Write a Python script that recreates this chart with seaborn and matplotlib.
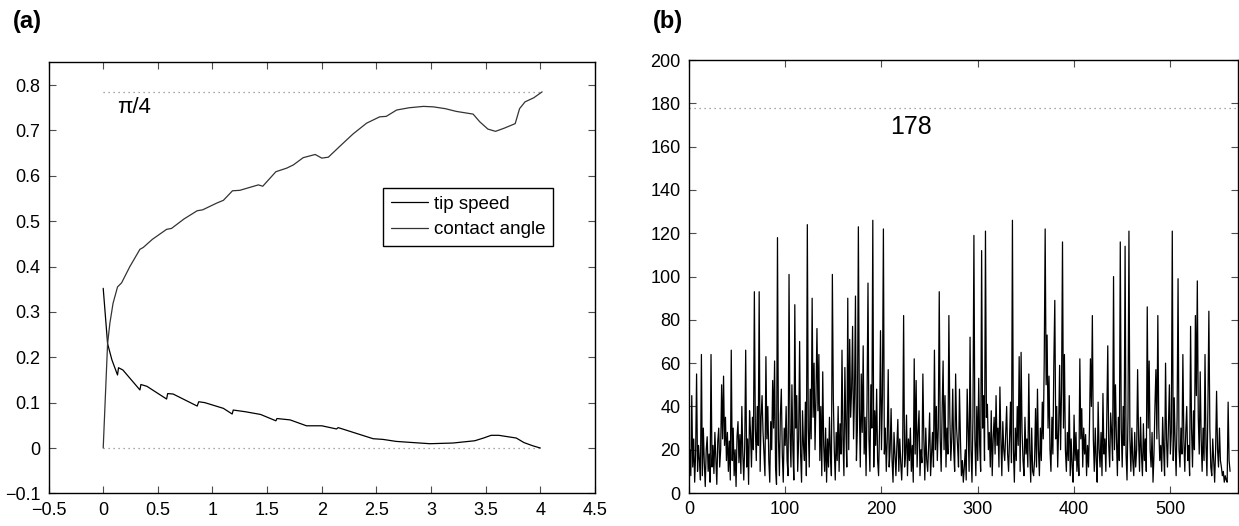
import numpy as np
import pandas as pd
import matplotlib
matplotlib.use("Agg")
import matplotlib.pyplot as plt
import seaborn as sns

# panel (a): contact angle (upper curve) and tip speed (lower curve) vs time
contact_x = [0, 0.04, 0.061, 0.09, 0.131, 0.168, 0.244, 0.336, 0.366, 0.45, 0.58, 0.625,
             0.74, 0.86, 0.91, 1.04, 1.10, 1.183, 1.25, 1.42, 1.46, 1.58, 1.68, 1.74, 1.83,
             1.94, 2.0, 2.06, 2.165, 2.285, 2.41, 2.53, 2.59, 2.685, 2.80, 2.93, 3.02, 3.13,
             3.23, 3.385, 3.446, 3.52, 3.59, 3.67, 3.77, 3.81, 3.86, 3.94, 4.016]
contact_y = [0.0, 0.23, 0.275, 0.319, 0.355, 0.364, 0.40, 0.438, 0.442, 0.46, 0.482, 0.484,
             0.505, 0.523, 0.525, 0.54, 0.546, 0.567, 0.568, 0.58, 0.577, 0.609, 0.617, 0.624,
             0.640, 0.647, 0.639, 0.641, 0.665, 0.692, 0.716, 0.730, 0.731, 0.745, 0.750, 0.753,
             0.752, 0.748, 0.742, 0.736, 0.719, 0.703, 0.698, 0.705, 0.715, 0.748, 0.763, 0.772,
             0.785]

tip_x = [0, 0.04, 0.08, 0.131, 0.14, 0.18, 0.336, 0.345, 0.40, 0.58, 0.59, 0.64, 0.86, 0.874,
         0.93, 1.10, 1.18, 1.19, 1.30, 1.44, 1.58, 1.59, 1.71, 1.86, 2.0, 2.135, 2.15, 2.32,
         2.47, 2.56, 2.68, 2.836, 2.99, 3.2, 3.4, 3.48, 3.55, 3.62, 3.70, 3.78, 3.85, 3.93, 4.0]
tip_y = [0.352, 0.23, 0.194, 0.161, 0.177, 0.172, 0.128, 0.14, 0.136, 0.108, 0.12, 0.119,
         0.0925, 0.102, 0.10, 0.0874, 0.075, 0.0837, 0.080, 0.074, 0.060, 0.065, 0.062, 0.049,
         0.049, 0.042, 0.045, 0.032, 0.0205, 0.019, 0.0146, 0.012, 0.0095, 0.011, 0.016, 0.022,
         0.028, 0.028, 0.025, 0.022, 0.012, 0.005, 0.0]

angle_limit = np.pi / 4
angle_label = "\u03c0/4"

# panel (b): signal per step (10 values per row)
signal = [
    20, 8, 45, 12, 25, 5, 18, 55, 10, 22,
    15, 6, 64, 8, 30, 14, 3, 20, 26, 10,
    18, 5, 64, 12, 22, 9, 28, 16, 4, 24,
    30, 12, 20, 50, 25, 54, 22, 35, 15, 28,
    10, 24, 6, 66, 15, 30, 8, 20, 3, 26,
    33, 14, 27, 9, 40, 18, 6, 22, 66, 12,
    25, 4, 38, 28, 12, 35, 20, 93, 30, 15,
    40, 22, 93, 10, 35, 45, 28, 18, 8, 63,
    25, 40, 15, 5, 33, 20, 52, 30, 61, 12,
    4, 118, 25, 8, 36, 48, 18, 5, 30, 22,
    40, 15, 8, 101, 28, 12, 50, 20, 6, 87,
    30, 45, 10, 25, 70, 18, 5, 38, 22, 15,
    42, 8, 124, 30, 12, 48, 25, 90, 35, 60,
    20, 45, 76, 38, 64, 15, 40, 8, 56, 22,
    10, 30, 5, 25, 12, 35, 18, 8, 101, 44,
    20, 6, 28, 15, 40, 10, 32, 18, 66, 25,
    8, 58, 30, 12, 90, 20, 71, 35, 48, 77,
    25, 45, 91, 15, 30, 123, 40, 12, 55, 28,
    68, 18, 35, 8, 42, 97, 25, 10, 50, 30,
    126, 12, 38, 22, 48, 15, 8, 30, 75, 20,
    45, 122, 18, 30, 10, 25, 57, 12, 20, 39,
    15, 5, 28, 18, 8, 22, 34, 10, 25, 14,
    6, 20, 82, 12, 18, 36, 8, 25, 15, 30,
    10, 22, 5, 62, 18, 52, 12, 28, 38, 8,
    20, 14, 55, 25, 6, 30, 15, 10, 22, 37,
    8, 18, 28, 12, 66, 20, 40, 15, 30, 93,
    25, 10, 38, 61, 20, 45, 12, 30, 18, 82,
    35, 15, 25, 48, 20, 10, 55, 30, 22, 12,
    48, 25, 8, 15, 5, 12, 20, 6, 48, 30,
    10, 72, 20, 5, 35, 119, 25, 8, 40, 15,
    53, 22, 10, 112, 30, 45, 15, 121, 35, 41,
    20, 28, 12, 38, 8, 25, 35, 18, 45, 22,
    30, 12, 49, 25, 8, 33, 20, 15, 28, 40,
    18, 10, 25, 42, 14, 126, 20, 5, 30, 15,
    40, 22, 63, 10, 65, 28, 15, 8, 35, 18,
    25, 12, 55, 20, 5, 30, 10, 8, 15, 39,
    12, 48, 20, 8, 30, 15, 42, 25, 60, 122,
    50, 73, 30, 54, 20, 10, 35, 18, 60, 89,
    25, 40, 12, 30, 59, 20, 48, 116, 30, 64,
    20, 10, 28, 15, 45, 8, 25, 12, 5, 36,
    15, 28, 10, 20, 8, 62, 25, 39, 12, 30,
    18, 27, 8, 22, 12, 30, 62, 40, 82, 25,
    10, 30, 15, 5, 42, 20, 12, 28, 8, 46,
    18, 25, 10, 35, 68, 22, 12, 37, 28, 15,
    100, 20, 50, 25, 8, 35, 15, 116, 30, 12,
    40, 22, 114, 18, 6, 35, 121, 25, 10, 30,
    15, 8, 28, 12, 20, 57, 25, 10, 35, 18,
    8, 32, 15, 25, 10, 86, 30, 61, 20, 12,
    28, 5, 18, 40, 57, 25, 82, 30, 15, 22,
    10, 35, 20, 8, 60, 25, 12, 30, 50, 18,
    28, 121, 15, 44, 22, 8, 35, 99, 20, 12,
    30, 18, 64, 25, 10, 28, 40, 15, 22, 8,
    77, 30, 12, 38, 20, 82, 45, 98, 35, 18,
    56, 25, 10, 30, 15, 64, 22, 8, 40, 84,
    30, 12, 8, 25, 15, 5, 20, 47, 20, 12,
    30, 15, 12, 8, 10, 5, 8, 6, 5, 42, 15, 10,
]
signal_limit = 178

sns.set_theme(style="ticks")
plt.rcParams["font.family"] = ["Liberation Sans", "DejaVu Sans"]
plt.rcParams["xtick.direction"] = "in"
plt.rcParams["ytick.direction"] = "in"
plt.rcParams["xtick.top"] = True
plt.rcParams["ytick.right"] = True
plt.rcParams["axes.edgecolor"] = "black"
plt.rcParams["axes.linewidth"] = 1.0
plt.rcParams["text.color"] = "black"
plt.rcParams["xtick.labelcolor"] = "black"
plt.rcParams["ytick.labelcolor"] = "black"

fig = plt.figure(figsize=(12.39, 5.26), dpi=100)
ax_a = fig.add_axes([0.0392, 0.062, 0.441, 0.8194])
ax_b = fig.add_axes([0.556, 0.0627, 0.443, 0.823])

dotted = dict(color="0.55", lw=0.9, ls=(0, (1, 3)))

# (a)
ax_a.plot([contact_x[0], contact_x[-1]], [angle_limit, angle_limit], **dotted)
ax_a.plot([tip_x[0], tip_x[-1]], [0, 0], **dotted)
sns.lineplot(x=tip_x, y=tip_y, ax=ax_a, color="black", lw=0.9, sort=False,
             estimator=None, label="tip speed")
sns.lineplot(x=contact_x, y=contact_y, ax=ax_a, color="#333333", lw=0.9, sort=False,
             estimator=None, label="contact angle")
ax_a.text(0.125, 0.75, angle_label, fontsize=16, va="center", ha="left")
ax_a.set_xlim(-0.5, 4.5)
ax_a.set_ylim(-0.1, 0.85)
ax_a.set_xticks(np.arange(-0.5, 4.51, 0.5))
ax_a.set_xticklabels(["\u22120.5", "0", "0.5", "1", "1.5", "2", "2.5", "3", "3.5", "4", "4.5"])
ax_a.set_yticks(np.arange(-0.1, 0.81, 0.1))
ax_a.set_yticklabels(["\u22120.1", "0", "0.1", "0.2", "0.3", "0.4", "0.5", "0.6", "0.7", "0.8"])
leg = ax_a.legend(loc="upper right", bbox_to_anchor=(0.923, 0.708), borderaxespad=0,
                  fontsize=13.5, frameon=True, fancybox=False, edgecolor="black",
                  framealpha=1, handlelength=2.0, borderpad=0.4, labelspacing=0.45,
                  handletextpad=0.3)
leg.get_frame().set_linewidth(1.0)

# (b)
steps = np.arange(1, len(signal) + 1)
sig_df = pd.DataFrame({"step": steps, "value": signal})
ax_b.axhline(signal_limit, **dotted)
sns.lineplot(data=sig_df, x="step", y="value", ax=ax_b, color="black", lw=0.9,
             sort=False, estimator=None)
ax_b.text(209, 169, str(signal_limit), fontsize=18, va="center", ha="left")
ax_b.set_xlim(0, 570)
ax_b.set_ylim(0, 200)
ax_b.set_xticks(np.arange(0, 501, 100))
ax_b.set_yticks(np.arange(0, 201, 20))

for ax in (ax_a, ax_b):
    ax.set_xlabel("")
    ax.set_ylabel("")
    ax.tick_params(labelsize=13, length=5, width=0.8, color="0.3", pad=6)

fig.text(0.010, 0.960, "(a)", fontsize=17, fontweight="bold", va="center", ha="left")
fig.text(0.527, 0.960, "(b)", fontsize=17, fontweight="bold", va="center", ha="left")

fig.savefig("out.png", dpi=100)
